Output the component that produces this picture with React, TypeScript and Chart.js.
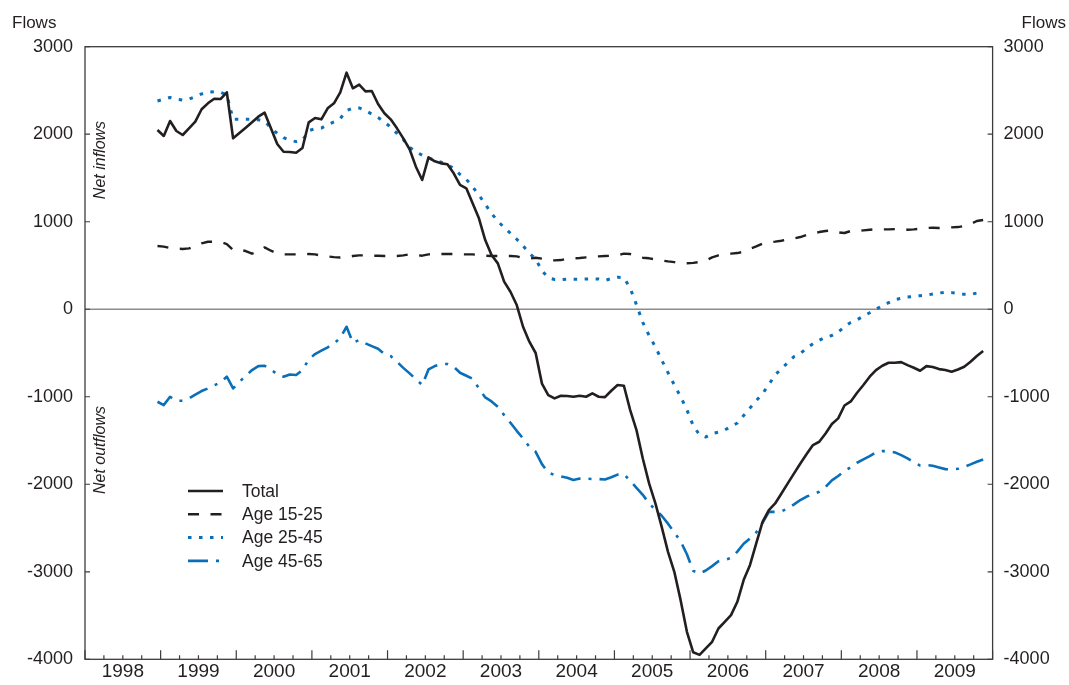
import React, { useEffect, useRef } from 'react';
import { Chart, registerables } from 'chart.js';

Chart.register(...registerables);

// Monthly observations, Dec 1998 .. Nov 2009
const START_YEAR = 1998;
const START_MONTH = 12;
const N_MONTHS = 132;
const months: string[] = [];
for (let k = 0; k < N_MONTHS; k++) {
  const mm = START_MONTH - 1 + k;
  months.push(`${START_YEAR + Math.floor(mm / 12)}-${String((mm % 12) + 1).padStart(2, '0')}`);
}

const yearLabels = ['1998', '1999', '2000', '2001', '2002', '2003', '2004', '2005', '2006', '2007', '2008', '2009'];
const yTickValues = [-4000, -3000, -2000, -1000, 0, 1000, 2000, 3000];

const total = [
  2048, 1980, 2151, 2037, 1991, 2068, 2143, 2285, 2353, 2406, 2402, 2479,
  1953, 2014, 2075, 2136, 2200, 2246, 2067, 1888, 1800, 1797, 1789, 1843,
  2136, 2185, 2170, 2296, 2353, 2479, 2703, 2525, 2566, 2490, 2494, 2345,
  2240, 2170, 2067, 1953, 1828, 1629, 1477, 1736, 1690, 1667, 1656, 1553,
  1420, 1382, 1210, 1039, 791, 620, 524, 315, 200, 48, -200, -371,
  -500, -850, -981, -1019, -988, -992, -1000, -988, -1000, -962, -1000, -1004,
  -931, -866, -874, -1152, -1381, -1705, -1990, -2219, -2486, -2772, -3000, -3324,
  -3686, -3920, -3950, -3876, -3800, -3648, -3572, -3495, -3343, -3095, -2924, -2676,
  -2429, -2295, -2219, -2105, -1990, -1876, -1762, -1655, -1552, -1514, -1419, -1312,
  -1247, -1100, -1053, -954, -866, -771, -695, -646, -611, -611, -604, -638,
  -669, -703, -650, -661, -684, -695, -714, -688, -657, -600, -535, -478,
];

const age15_25 = [
  722, 716, 700, 692, 689, 695, 722, 753, 771, 771, 768, 745,
  677, 680, 665, 635, 660, 707, 669, 638, 627, 627, 627, 627,
  631, 627, 612, 604, 596, 592, 596, 608, 616, 616, 612, 612,
  608, 608, 608, 615, 627, 620, 612, 627, 635, 631, 631, 631,
  627, 627, 627, 620, 612, 608, 608, 608, 608, 604, 585, 578,
  589, 578, 558, 558, 562, 578, 582, 585, 593, 600, 604, 608,
  611, 615, 635, 631, 604, 589, 582, 570, 558, 547, 539, 528,
  525, 530, 539, 558, 593, 615, 627, 635, 642, 657, 691, 718,
  749, 764, 772, 783, 799, 810, 825, 848, 867, 882, 894, 901,
  879, 871, 894, 897, 901, 909, 913, 913, 913, 916, 920, 909,
  913, 920, 928, 932, 928, 928, 936, 939, 951, 973, 1008, 1020,
];

const age25_45 = [
  2380, 2400, 2420, 2400, 2390, 2400, 2430, 2460, 2480, 2485, 2480, 2450,
  2170, 2170, 2170, 2170, 2165, 2150, 2070, 2010, 1960, 1930, 1915, 1930,
  2040, 2065, 2070, 2110, 2140, 2180, 2270, 2300, 2300, 2270, 2230, 2190,
  2140, 2080, 2010, 1940, 1850, 1800, 1760, 1725, 1705, 1680, 1650, 1610,
  1540, 1485, 1400, 1305, 1200, 1095, 1005, 935, 868, 800, 725, 640,
  575, 440, 360, 340, 338, 342, 342, 342, 345, 348, 345, 330,
  350, 365, 360, 240, 50, -150, -300, -430, -580, -725, -865, -1000,
  -1150, -1330, -1435, -1460, -1420, -1405, -1380, -1340, -1300, -1215, -1130, -1045,
  -965, -860, -750, -680, -610, -540, -505, -445, -395, -355, -320, -300,
  -260, -200, -150, -120, -80, -40, 0, 40, 75, 110, 125, 140,
  147, 155, 160, 175, 185, 195, 190, 180, 170, 170, 185, 195,
];

const age45_65 = [
  -1057, -1095, -1000, -1045, -1045, -1020, -975, -935, -905, -870, -835, -771,
  -904, -829, -762, -695, -650, -646, -688, -745, -771, -745, -752, -695,
  -574, -512, -474, -436, -394, -325, -200, -383, -352, -390, -421, -451,
  -512, -535, -600, -670, -733, -800, -866, -688, -649, -626, -626, -657,
  -726, -760, -795, -905, -1008, -1053, -1114, -1210, -1297, -1389, -1476, -1571,
  -1629, -1770, -1865, -1895, -1910, -1926, -1952, -1935, -1935, -1940, -1941, -1945,
  -1920, -1890, -1884, -1960, -2040, -2120, -2220, -2290, -2360, -2450, -2550, -2650,
  -2800, -2990, -3020, -2985, -2935, -2880, -2865, -2840, -2770, -2680, -2620, -2550,
  -2440, -2315, -2315, -2310, -2276, -2230, -2180, -2140, -2115, -2085, -2030, -1955,
  -1905, -1850, -1805, -1754, -1716, -1678, -1636, -1621, -1621, -1636, -1667, -1705,
  -1750, -1785, -1781, -1789, -1808, -1827, -1830, -1823, -1800, -1773, -1743, -1716,
];

const BLACK = '#231f20';
const BLUE = '#0a6fb9';
const FONT = '"Liberation Sans", Arial, Helvetica, sans-serif';

function monthToX(label: string): number {
  const [y, m] = label.split('-').map(Number);
  return y + (m - 0.5) / 12;
}

const seriesDefs = [
  { label: 'Total', values: total, color: BLACK, width: 2.6, dash: [] as number[] },
  { label: 'Age 15-25', values: age15_25, color: BLACK, width: 2.4, dash: [11, 11.5] },
  { label: 'Age 25-45', values: age25_45, color: BLUE, width: 3, dash: [3.5, 7.5] },
  { label: 'Age 45-65', values: age45_65, color: BLUE, width: 2.6, dash: [20, 8, 3, 8] },
];

const decorPlugin = {
  id: 'decor',
  beforeDatasetsDraw(chart: any) {
    const { ctx, chartArea: a, scales } = chart;
    const y0 = scales.y.getPixelForValue(0);
    ctx.save();
    ctx.strokeStyle = '#8c8c8c';
    ctx.lineWidth = 1.6;
    ctx.beginPath();
    ctx.moveTo(a.left, y0);
    ctx.lineTo(a.right, y0);
    ctx.stroke();
    ctx.restore();
  },
  afterDraw(chart: any) {
    const { ctx, chartArea: a, scales } = chart;
    ctx.save();
    // frame
    ctx.strokeStyle = '#3c3c3c';
    ctx.lineWidth = 1.3;
    ctx.strokeRect(a.left, a.top, a.right - a.left, a.bottom - a.top);
    // x tick marks (quarterly, longer at years)
    ctx.lineWidth = 1.2;
    ctx.beginPath();
    for (let q = 0; q <= yearLabels.length * 4; q++) {
      const v = Number(yearLabels[0]) + q / 4;
      const px = scales.x.getPixelForValue(v);
      const len = q % 4 === 0 ? 9 : 4;
      ctx.moveTo(px, a.bottom);
      ctx.lineTo(px, a.bottom - len);
    }
    // y tick marks on both sides
    for (const v of yTickValues) {
      const py = scales.y.getPixelForValue(v);
      ctx.moveTo(a.left, py);
      ctx.lineTo(a.left + 5, py);
      ctx.moveTo(a.right - 5, py);
      ctx.lineTo(a.right, py);
    }
    ctx.stroke();

    // axis titles
    ctx.fillStyle = BLACK;
    ctx.font = `17px ${FONT}`;
    ctx.textBaseline = 'alphabetic';
    ctx.textAlign = 'left';
    ctx.fillText('Flows', 12, 28);
    ctx.textAlign = 'right';
    ctx.fillText('Flows', 1066, 28);

    // rotated region labels
    ctx.font = `italic 16px ${FONT}`;
    ctx.textAlign = 'center';
    ctx.textBaseline = 'middle';
    const drawRot = (text: string, x: number, y: number) => {
      ctx.save();
      ctx.translate(x, y);
      ctx.rotate(-Math.PI / 2);
      ctx.fillText(text, 0, 0);
      ctx.restore();
    };
    drawRot('Net inflows', 101, 160);
    drawRot('Net outflows', 101, 450);

    // legend
    const lx0 = 188, lx1 = 223, tx = 242, ly0 = 491, dy = 23.3;
    ctx.font = `17.5px ${FONT}`;
    ctx.textAlign = 'left';
    ctx.textBaseline = 'middle';
    seriesDefs.forEach((s, i) => {
      const yy = ly0 + i * dy;
      ctx.save();
      ctx.strokeStyle = s.color;
      ctx.lineWidth = s.width;
      ctx.setLineDash(s.dash);
      ctx.beginPath();
      ctx.moveTo(lx0, yy);
      ctx.lineTo(lx1, yy);
      ctx.stroke();
      ctx.restore();
      ctx.fillStyle = BLACK;
      ctx.fillText(s.label, tx, yy + 1);
    });
    ctx.restore();
  },
};

export default function App() {
  const canvasRef = useRef<HTMLCanvasElement | null>(null);

  useEffect(() => {
    const canvas = canvasRef.current;
    if (!canvas) return;
    const datasets = seriesDefs.map((s) => ({
      label: s.label,
      data: months.map((m, i) => ({ x: monthToX(m), y: s.values[i] })),
      borderColor: s.color,
      backgroundColor: s.color,
      borderWidth: s.width,
      borderDash: s.dash,
      borderCapStyle: 'butt' as const,
      borderJoinStyle: 'round' as const,
      pointRadius: 0,
      tension: 0,
      fill: false,
      yAxisID: 'y',
    }));
    const firstYear = Number(yearLabels[0]);
    const chart = new Chart(canvas, {
      type: 'line',
      data: { datasets },
      plugins: [decorPlugin],
      options: {
        responsive: false,
        animation: false,
        layout: { padding: { top: 46.7, left: 0, right: 0, bottom: 0 } },
        plugins: { legend: { display: false }, tooltip: { enabled: false } },
        scales: {
          x: {
            type: 'linear',
            position: 'bottom',
            min: firstYear,
            max: firstYear + yearLabels.length,
            grid: { display: false, drawTicks: false },
            border: { display: false },
            afterBuildTicks: (scale: any) => {
              scale.ticks = yearLabels.map((y) => ({ value: Number(y) + 0.5 }));
            },
            afterFit: (scale: any) => {
              scale.height = 25.7;
            },
            ticks: {
              autoSkip: false,
              maxRotation: 0,
              padding: 1,
              color: BLACK,
              font: { family: FONT, size: 19 },
              callback: (v: any) => String(Math.floor(Number(v))),
            },
          },
          y: {
            type: 'linear',
            position: 'left',
            min: -4000,
            max: 3000,
            grid: { display: false, drawTicks: false },
            border: { display: false },
            afterBuildTicks: (scale: any) => {
              scale.ticks = yTickValues.map((v) => ({ value: v }));
            },
            afterFit: (scale: any) => {
              scale.width = 85;
            },
            ticks: {
              padding: 12,
              color: BLACK,
              font: { family: FONT, size: 18 },
              callback: (v: any) => String(v),
            },
          },
          y2: {
            type: 'linear',
            position: 'right',
            min: -4000,
            max: 3000,
            grid: { display: false, drawTicks: false },
            border: { display: false },
            afterBuildTicks: (scale: any) => {
              scale.ticks = yTickValues.map((v) => ({ value: v }));
            },
            afterFit: (scale: any) => {
              scale.width = 76.4;
            },
            ticks: {
              padding: 11,
              color: BLACK,
              font: { family: FONT, size: 18 },
              callback: (v: any) => String(v),
            },
          },
        },
      } as any,
    });
    return () => chart.destroy();
  }, []);

  return (
    <div style={{ position: 'absolute', left: 0, top: 0, width: 1069, height: 685, background: '#fff' }}>
      <canvas ref={canvasRef} width={1069} height={685} style={{ display: 'block' }} />
    </div>
  );
}
